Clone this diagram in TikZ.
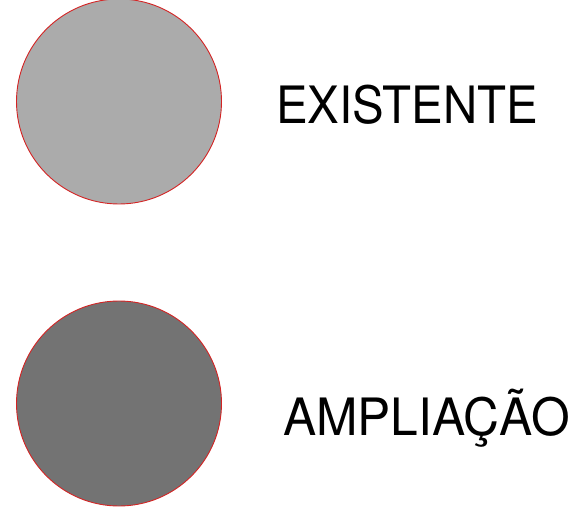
\documentclass[tikz,border=0pt]{standalone}
\usepackage{fontspec}
\setmainfont{TeX Gyre Heros}
\definecolor{legendLight}{HTML}{ABABAB}
\definecolor{legendDark}{HTML}{737373}
\definecolor{legendRim}{HTML}{D42424}

\begin{document}
\begin{tikzpicture}[x=1pt,y=-1pt,
    legdot/.style={circle, draw=legendRim, line width=0.9pt, minimum size=205pt, inner sep=0pt},
    legtext/.style={anchor=base west, inner sep=0pt, font=\fontsize{51.5}{60}\selectfont}]
            \useasboundingbox (0,0) rectangle (577,510);
            \node[legdot, fill=legendLight] (dotexist) at (119,101.5) {};
            \node[legdot, fill=legendDark] (dotampl) at (119,403.5) {};
            \node[legtext, xscale=0.92] (txtexist) at (276,124) {EXISTENTE};
            \node[legtext, xscale=0.965] (txtampl) at (283,435) {AMPLIAÇÃO};
        \end{tikzpicture}
\end{document}
